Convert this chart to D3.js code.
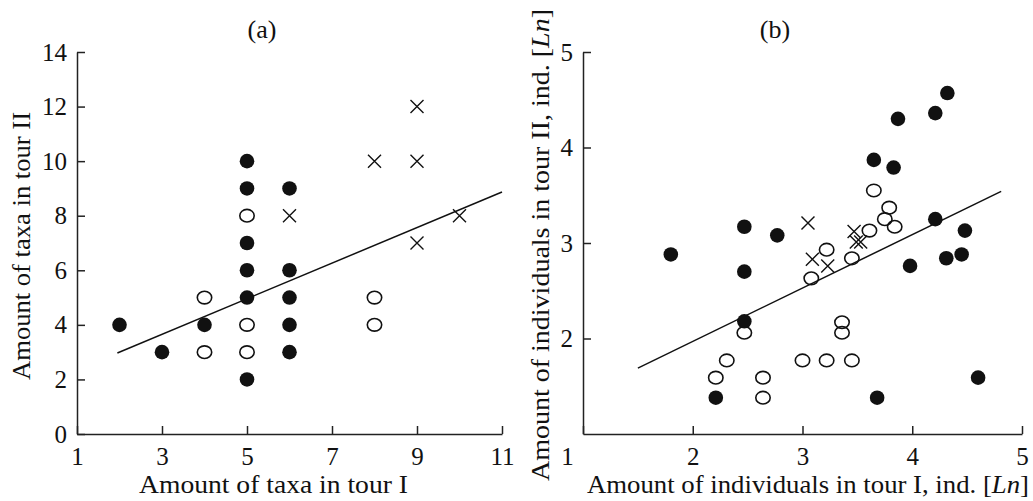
<!DOCTYPE html>
<html>
<head>
<meta charset="utf-8">
<script src="https://cdn.jsdelivr.net/npm/d3@7"></script>
<style>
  body { margin: 0; background: #fff; }
  svg { display: block; }
  text { font-family: "Liberation Serif", "Times New Roman", serif; fill: #111; }
</style>
</head>
<body>
<div id="chart-area"></div>
<script>
/*
*    two scatter panels, tour I vs tour II
*/

// ---- data ----
// panel (a): taxa
var filledA = [[2,4],[3,3],[4,4],[5,10],[5,9],[5,7],[5,6],[5,5],[5,2],
	[6,9],[6,6],[6,5],[6,4],[6,3]];
var openA = [[4,5],[4,3],[5,8],[5,4],[5,3],[8,5],[8,4]];
var crossA = [[6,8],[8,10],[9,12],[9,10],[9,7],[10,8]];
var trendA = [[1.95,2.97],[11,8.87]];
var xTicksA = [1,3,5,7,9,11];
var yTicksA = [0,2,4,6,8,10,12,14];

// panel (b): individuals, Ln
var filledB = [[1.80,2.88],[2.47,3.17],[2.47,2.70],[2.47,2.18],[2.21,1.38],[2.77,3.08],
	[3.68,1.38],[3.65,3.87],[3.83,3.79],[3.87,4.30],[4.21,4.36],[4.32,4.57],
	[4.21,3.25],[4.48,3.13],[3.98,2.76],[4.31,2.84],[4.45,2.88],[4.60,1.59]];
var openB = [[2.47,2.06],[2.31,1.77],[2.21,1.59],[2.64,1.59],[2.64,1.38],[3.00,1.77],
	[3.22,1.77],[3.36,2.17],[3.36,2.06],[3.45,1.77],[3.08,2.63],[3.22,2.93],
	[3.45,2.84],[3.61,3.13],[3.65,3.55],[3.79,3.37],[3.75,3.25],[3.84,3.17]];
var crossB = [[3.05,3.21],[3.09,2.83],[3.23,2.76],[3.47,3.12],[3.49,3.01],[3.53,3.01]];
var trendB = [[1.5,1.69],[4.81,3.54]];
var xTicksB = [1,2,3,4,5];
var yTicksB = [2,3,4,5];

var width = 1033;
var height = 501;

var svg = d3.select("#chart-area").append("svg")
	.attr("width", width)
	.attr("height", height);

// Scales
var xA = d3.scaleLinear().domain([1, 11]).range([77, 502]);
var yA = d3.scaleLinear().domain([0, 14]).range([434, 52]);
var xB = d3.scaleLinear().domain([1, 5]).range([583, 1022]);
var yB = d3.scaleLinear().domain([1, 5]).range([434, 52]);

function styleAxis(sel) {
	sel.select(".domain").attr("stroke", "#222").attr("stroke-width", 1.5);
	sel.selectAll(".tick line").attr("stroke", "#222").attr("stroke-width", 1.5);
	sel.selectAll(".tick text")
		.style("font-family", "'Liberation Serif', 'Times New Roman', serif")
		.style("font-size", "25px")
		.attr("fill", "#111");
}

function drawPanel(x, y, xTicks, yTicks, filled, open, cross, trend) {
	var yAxisGroup = svg.append("g")
		.attr("transform", "translate(" + x.range()[0] + ", 0)");
	yAxisGroup.call(d3.axisLeft(y)
		.tickValues(yTicks)
		.tickSizeInner(-8)
		.tickSizeOuter(0)
		.tickPadding(10)
		.tickFormat(d3.format("d")));
	styleAxis(yAxisGroup);

	var xAxisGroup = svg.append("g")
		.attr("transform", "translate(0, " + y.range()[0] + ")");
	xAxisGroup.call(d3.axisBottom(x)
		.tickValues(xTicks)
		.tickSizeInner(-8)
		.tickSizeOuter(0)
		.tickPadding(13)
		.tickFormat(d3.format("d")));
	styleAxis(xAxisGroup);

	var g = svg.append("g");

	// trend line
	g.append("path")
		.datum(trend)
		.attr("fill", "none")
		.attr("stroke", "#111")
		.attr("stroke-width", 1.5)
		.attr("d", d3.line().x((d) => x(d[0])).y((d) => y(d[1])));

	g.selectAll(".open").data(open).enter().append("ellipse")
		.attr("class", "open")
		.attr("cx", (d) => x(d[0]))
		.attr("cy", (d) => y(d[1]))
		.attr("rx", 7.2)
		.attr("ry", 6.3)
		.attr("fill", "none")
		.attr("stroke", "#111")
		.attr("stroke-width", 1.6);

	var s = 6.5;
	g.selectAll(".cross").data(cross).enter().append("path")
		.attr("class", "cross")
		.attr("d", (d) => {
			var cx = x(d[0]), cy = y(d[1]);
			return "M" + (cx - s) + "," + (cy - s) + "L" + (cx + s) + "," + (cy + s) +
				"M" + (cx - s) + "," + (cy + s) + "L" + (cx + s) + "," + (cy - s);
		})
		.attr("stroke", "#111")
		.attr("stroke-width", 1.4)
		.attr("fill", "none");

	g.selectAll(".filled").data(filled).enter().append("circle")
		.attr("class", "filled")
		.attr("cx", (d) => x(d[0]))
		.attr("cy", (d) => y(d[1]))
		.attr("r", 7.3)
		.attr("fill", "#111");

	return xAxisGroup;
}

drawPanel(xA, yA, xTicksA, yTicksA, filledA, openA, crossA, trendA);
var xAxisB = drawPanel(xB, yB, xTicksB, yTicksB, filledB, openB, crossB, trendB);

// the shared "1" in panel (b) sits left of the corner
xAxisB.selectAll(".tick text").filter((d) => d === 1).attr("x", -16);

// panel titles
svg.append("text").attr("x", 262).attr("y", 38)
	.attr("text-anchor", "middle").style("font-size", "26px").text("(a)");
svg.append("text").attr("x", 775).attr("y", 38)
	.attr("text-anchor", "middle").style("font-size", "26px").text("(b)");

// x labels
svg.append("text")
	.attr("x", 139).attr("y", 493)
	.attr("textLength", 269).attr("lengthAdjust", "spacingAndGlyphs")
	.style("font-size", "26px")
	.text("Amount of taxa in tour I");

var xlabB = svg.append("text")
	.attr("x", 587).attr("y", 493)
	.attr("textLength", 442).attr("lengthAdjust", "spacingAndGlyphs")
	.style("font-size", "26px");
xlabB.append("tspan").text("Amount of individuals in tour I, ind. [");
xlabB.append("tspan").style("font-style", "italic").text("Ln");
xlabB.append("tspan").text("]");

// y labels
svg.append("text")
	.attr("transform", "translate(30, 380) rotate(-90)")
	.attr("textLength", 268).attr("lengthAdjust", "spacingAndGlyphs")
	.style("font-size", "26px")
	.text("Amount of taxa in tour II");

var ylabB = svg.append("text")
	.attr("transform", "translate(549, 481) rotate(-90)")
	.attr("textLength", 472).attr("lengthAdjust", "spacingAndGlyphs")
	.style("font-size", "26px");
ylabB.append("tspan").text("Amount of individuals in tour II, ind. [");
ylabB.append("tspan").style("font-style", "italic").text("Ln");
ylabB.append("tspan").text("]");
</script>
</body>
</html>
